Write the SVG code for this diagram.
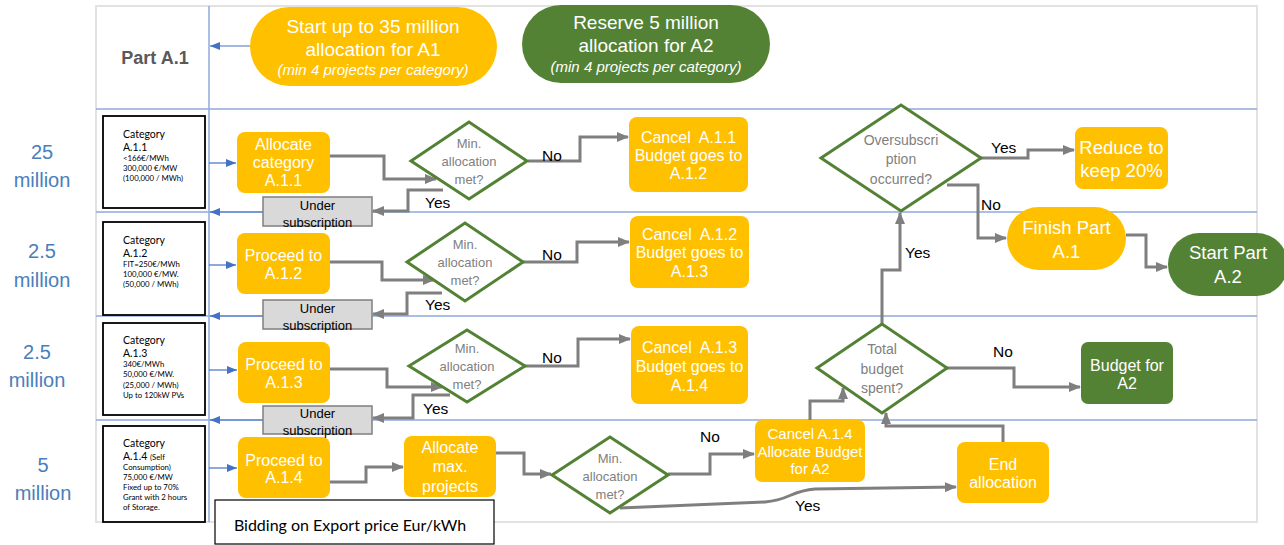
<svg xmlns="http://www.w3.org/2000/svg" width="1284" height="545" viewBox="0 0 1284 545">
<defs>
<marker id="ag" markerUnits="userSpaceOnUse" markerWidth="12" markerHeight="10" refX="11" refY="5" orient="auto"><path d="M0,0 L12,5 L0,10 z" fill="#7f7f7f"/></marker>
<marker id="ab" markerUnits="userSpaceOnUse" markerWidth="10" markerHeight="8" refX="10" refY="4" orient="auto"><path d="M0,0 L10,4 L0,8 z" fill="#4472c4"/></marker>
<style>
.lane{stroke:#8faadc;stroke-width:1.5;fill:none}
.blue{stroke:#4472c4;stroke-width:1.2;fill:none;marker-end:url(#ab)}
.con{stroke:#7f7f7f;stroke-width:3;fill:none;marker-end:url(#ag)}
.y{fill:#ffc000}
.g{fill:#548235}
.dia{fill:#fff;stroke:#548235;stroke-width:3}
.cat{fill:#fff;stroke:#000;stroke-width:1.8}
.us{fill:#d9d9d9;stroke:#7f7f7f;stroke-width:1.5}
.wt{font-family:"Liberation Sans",Arial,sans-serif;fill:#fff;text-anchor:middle;white-space:pre}
.dt{font-family:"Liberation Sans",Arial,sans-serif;fill:#808080;text-anchor:middle;font-size:13px}
.lb{font-family:"Liberation Sans",Arial,sans-serif;fill:#000;font-size:15.5px}
.ml{font-family:"Liberation Sans",Arial,sans-serif;fill:#4a7ebb;text-anchor:middle;font-size:20px}
.ct{font-family:Lato,"Open Sans",sans-serif;fill:#000;font-size:10.5px}
.cs{font-family:Lato,"Open Sans",sans-serif;fill:#000;font-size:7.8px}
.ut{font-family:"Liberation Sans",Arial,sans-serif;fill:#000;text-anchor:middle;font-size:13px}
</style>
</defs>
<rect width="1284" height="545" fill="#fff"/>
<g id="frame">
<rect x="96" y="6" width="1161" height="516" fill="none" stroke="#e2e2e2" stroke-width="2"/>
<line class="lane" x1="209" y1="6" x2="209" y2="522"/>
<line class="lane" x1="96" y1="109" x2="1257" y2="109"/>
<line class="lane" x1="96" y1="212" x2="1257" y2="212"/>
<line class="lane" x1="96" y1="316" x2="1257" y2="316"/>
<line class="lane" x1="96" y1="420" x2="1257" y2="420"/>
<text x="155" y="64" font-family="Liberation Sans,Arial,sans-serif" font-weight="bold" font-size="18" fill="#595959" text-anchor="middle">Part A.1</text>
</g>
<g id="lane-labels">
<text class="ml" x="42" y="159">25</text><text class="ml" x="42" y="187">million</text>
<text class="ml" x="42" y="258">2.5</text><text class="ml" x="42" y="287">million</text>
<text class="ml" x="37" y="359">2.5</text><text class="ml" x="37" y="387">million</text>
<text class="ml" x="43" y="472">5</text><text class="ml" x="43" y="500">million</text>
</g>
<g id="connectors">
<line class="blue" x1="250" y1="46" x2="210" y2="46"/>
<line class="blue" x1="209" y1="163" x2="236" y2="163"/>
<line class="blue" x1="209" y1="265" x2="236" y2="265"/>
<line class="blue" x1="209" y1="370" x2="237" y2="370"/>
<line class="blue" x1="209" y1="468" x2="237" y2="468"/>
<line class="blue" x1="263" y1="212" x2="210" y2="212"/>
<line class="blue" x1="263" y1="316" x2="210" y2="316"/>
<line class="blue" x1="263" y1="420" x2="210" y2="420"/>
<path class="con" d="M330,156 H384 V179 H436"/>
<path class="con" d="M443,190 H408 V211 H373"/>
<path class="con" d="M528,161 H580 V137 H628"/>
<path class="con" d="M330,262 H382 V280 H434"/>
<path class="con" d="M442,293 H407 V314 H373"/>
<path class="con" d="M523,262 H577 V242 H629"/>
<path class="con" d="M330,369 H387 V387 H442"/>
<path class="con" d="M450,395 H413 V418 H373"/>
<path class="con" d="M525,366 H578 V339 H630"/>
<path class="con" d="M330,482 H366 V467 H403"/>
<path class="con" d="M496,453 H524 V474 H551"/>
<path class="con" d="M668,474 H710 V454 H754"/>
<path class="con" d="M620,508 L765,502 C790,500 790,491 815,489 L956,487"/>
<path class="con" d="M810,420 V401 H843 V388"/>
<path class="con" d="M1003,442 V426 H886 V413"/>
<path class="con" d="M882,324 V270 H900 V213"/>
<path class="con" d="M947,368 H1014 V387 H1080"/>
<path class="con" d="M981,158 H1028 V150 H1074"/>
<path class="con" d="M947,185 H978 V238 H1006"/>
<path class="con" d="M1126,235 H1146 V267 H1167"/>
<text class="lb" x="425" y="208">Yes</text>
<text class="lb" x="542" y="161">No</text>
<text class="lb" x="425" y="310">Yes</text>
<text class="lb" x="542" y="260">No</text>
<text class="lb" x="423" y="414">Yes</text>
<text class="lb" x="542" y="363">No</text>
<text class="lb" x="700" y="442">No</text>
<text class="lb" x="795" y="511">Yes</text>
<text class="lb" x="905" y="258">Yes</text>
<text class="lb" x="993" y="357">No</text>
<text class="lb" x="991" y="153">Yes</text>
<text class="lb" x="981" y="210">No</text>
</g>
<g id="start-a1"><rect class="y" x="250" y="7" width="247" height="79" rx="39.5"/>
<text class="wt" x="373" y="33" font-size="19">Start up to 35 million</text>
<text class="wt" x="373" y="56" font-size="19">allocation for A1</text>
<text class="wt" x="373" y="75" font-size="15" font-style="italic">(min 4 projects per category)</text></g>
<g id="reserve-a2"><rect class="g" x="522" y="5" width="248" height="78" rx="39"/>
<text class="wt" x="646" y="29" font-size="19">Reserve 5 million</text>
<text class="wt" x="646" y="52" font-size="19">allocation for A2</text>
<text class="wt" x="646" y="72" font-size="15" font-style="italic">(min 4 projects per category)</text></g>
<g id="cat-a11"><rect class="cat" x="103" y="116" width="102" height="92"/>
<text class="ct" x="123" y="138">Category</text><text class="ct" x="123" y="151">A.1.1</text>
<text class="cs" x="123" y="161">&lt;166€/MWh</text><text class="cs" x="123" y="171">300,000 €/MW</text><text class="cs" x="123" y="181">(100,000 / MWh)</text></g>
<g id="cat-a12"><rect class="cat" x="103" y="222" width="102" height="93"/>
<text class="ct" x="123" y="244">Category</text><text class="ct" x="123" y="257">A.1.2</text>
<text class="cs" x="123" y="267">FIT=250€/MWh</text><text class="cs" x="123" y="277">100,000 €/MW.</text><text class="cs" x="123" y="287">(50,000 / MWh)</text></g>
<g id="cat-a13"><rect class="cat" x="103" y="323" width="102" height="92"/>
<text class="ct" x="123" y="344">Category</text><text class="ct" x="123" y="357">A.1.3</text>
<text class="cs" x="123" y="367">340€/MWh</text><text class="cs" x="123" y="377">50,000 €/MW.</text><text class="cs" x="123" y="388">(25,000 / MWh)</text><text class="cs" x="123" y="398">Up to 120kW PVs</text></g>
<g id="cat-a14"><rect class="cat" x="103" y="426" width="102" height="96"/>
<text class="ct" x="123" y="447">Category</text><text class="ct" x="123" y="460">A.1.4 <tspan font-size="7.8">(Self</tspan></text>
<text class="cs" x="123" y="470">Consumption)</text><text class="cs" x="123" y="480">75,000 €/MW</text><text class="cs" x="123" y="490">Fixed up to 70%</text><text class="cs" x="123" y="500">Grant with 2 hours</text><text class="cs" x="123" y="510">of Storage.</text></g>
<g id="alloc-a11"><rect class="y" x="237" y="132" width="93" height="61" rx="8"/>
<text class="wt" x="283.5" y="150" font-size="16">Allocate</text><text class="wt" x="283.5" y="168" font-size="16">category</text><text class="wt" x="283.5" y="186" font-size="16">A.1.1</text></g>
<g id="proceed-a12"><rect class="y" x="237" y="233" width="93" height="61" rx="8"/>
<text class="wt" x="283.5" y="261" font-size="16">Proceed to</text><text class="wt" x="283.5" y="279" font-size="16">A.1.2</text></g>
<g id="proceed-a13"><rect class="y" x="238" y="342" width="92" height="61" rx="8"/>
<text class="wt" x="284" y="370" font-size="16">Proceed to</text><text class="wt" x="284" y="388" font-size="16">A.1.3</text></g>
<g id="proceed-a14"><rect class="y" x="238" y="437" width="92" height="61" rx="8"/>
<text class="wt" x="284" y="466" font-size="16">Proceed to</text><text class="wt" x="284" y="483" font-size="16">A.1.4</text></g>
<g id="alloc-max"><rect class="y" x="404" y="436" width="92" height="61" rx="8"/>
<text class="wt" x="450" y="453" font-size="16">Allocate</text><text class="wt" x="450" y="472" font-size="16">max.</text><text class="wt" x="450" y="492" font-size="16">projects</text></g>
<g id="under1"><rect class="us" x="263" y="197" width="109" height="29"/>
<text class="ut" x="317.5" y="210">Under</text><text class="ut" x="317.5" y="227">subscription</text></g>
<g id="under2"><rect class="us" x="263" y="300" width="109" height="29"/>
<text class="ut" x="317.5" y="313">Under</text><text class="ut" x="317.5" y="330">subscription</text></g>
<g id="under3"><rect class="us" x="263" y="406" width="109" height="28"/>
<text class="ut" x="317.5" y="418">Under</text><text class="ut" x="317.5" y="435">subscription</text></g>
<g id="min1"><path class="dia" d="M411,161 L469,122 L527,161 L469,199 z"/>
<text class="dt" x="469" y="148">Min.</text><text class="dt" x="469" y="166">allocation</text><text class="dt" x="469" y="184">met?</text></g>
<g id="min2"><path class="dia" d="M407,262 L465,223 L523,262 L465,301 z"/>
<text class="dt" x="465" y="249">Min.</text><text class="dt" x="465" y="267">allocation</text><text class="dt" x="465" y="285">met?</text></g>
<g id="min3"><path class="dia" d="M409,366 L467,330 L525,366 L467,402 z"/>
<text class="dt" x="467" y="353">Min.</text><text class="dt" x="467" y="371">allocation</text><text class="dt" x="467" y="389">met?</text></g>
<g id="min4"><path class="dia" d="M552,475 L610,437 L668,475 L610,513 z"/>
<text class="dt" x="610" y="463">Min.</text><text class="dt" x="610" y="481">allocation</text><text class="dt" x="610" y="499">met?</text></g>
<g id="cancel-a11"><rect class="y" x="629" y="117" width="119" height="75" rx="8"/>
<text class="wt" x="688.5" y="143" font-size="16">Cancel  A.1.1</text><text class="wt" x="688.5" y="161" font-size="16">Budget goes to</text><text class="wt" x="688.5" y="179" font-size="16">A.1.2</text></g>
<g id="cancel-a12"><rect class="y" x="630" y="216" width="119" height="72" rx="8"/>
<text class="wt" x="689.5" y="240" font-size="16">Cancel  A.1.2</text><text class="wt" x="689.5" y="258" font-size="16">Budget goes to</text><text class="wt" x="689.5" y="277" font-size="16">A.1.3</text></g>
<g id="cancel-a13"><rect class="y" x="631" y="326" width="117" height="78" rx="8"/>
<text class="wt" x="689.5" y="353" font-size="16">Cancel  A.1.3</text><text class="wt" x="689.5" y="372" font-size="16">Budget goes to</text><text class="wt" x="689.5" y="391" font-size="16">A.1.4</text></g>
<g id="cancel-a14"><rect class="y" x="755" y="420" width="110" height="62" rx="7"/>
<text class="wt" x="810" y="439" font-size="15">Cancel A.1.4</text><text class="wt" x="810" y="457" font-size="15">Allocate Budget</text><text class="wt" x="810" y="474" font-size="15">for A2</text></g>
<g id="oversub"><path class="dia" d="M821,158 L901,105 L981,158 L901,211 z"/>
<text class="dt" x="901" y="145" style="font-size:14px">Oversubscri</text><text class="dt" x="901" y="164" style="font-size:14px">ption</text><text class="dt" x="901" y="184" style="font-size:14px">occurred?</text></g>
<g id="total-budget"><path class="dia" d="M817,368 L882,324 L947,368 L882,413 z"/>
<text class="dt" x="882" y="354" style="font-size:14px">Total</text><text class="dt" x="882" y="374" style="font-size:14px">budget</text><text class="dt" x="882" y="393" style="font-size:14px">spent?</text></g>
<g id="reduce"><rect class="y" x="1075" y="127" width="93" height="62" rx="8"/>
<text class="wt" x="1121.5" y="154" font-size="18.5">Reduce to</text><text class="wt" x="1121.5" y="177" font-size="18.5">keep 20%</text></g>
<g id="finish-a1"><rect class="y" x="1007" y="207" width="119" height="63" rx="31.5"/>
<text class="wt" x="1066.5" y="234" font-size="18.5">Finish Part</text><text class="wt" x="1066.5" y="258" font-size="18.5">A.1</text></g>
<g id="start-a2"><rect class="g" x="1168" y="233" width="120" height="63" rx="31.5"/>
<text class="wt" x="1228" y="259" font-size="18.5">Start Part</text><text class="wt" x="1228" y="283" font-size="18.5">A.2</text></g>
<g id="budget-a2"><rect class="g" x="1081" y="342" width="92" height="62" rx="7"/>
<text class="wt" x="1127" y="371" font-size="16">Budget for</text><text class="wt" x="1127" y="389" font-size="16">A2</text></g>
<g id="end-alloc"><rect class="y" x="957" y="442" width="92" height="61" rx="8"/>
<text class="wt" x="1003" y="470" font-size="16">End</text><text class="wt" x="1003" y="488" font-size="16">allocation</text></g>
<g id="bidding"><rect x="215" y="500" width="279" height="44" fill="#fff" stroke="#000" stroke-width="1.2"/>
<text x="350" y="531" font-family="Lato,'Open Sans',sans-serif" font-size="16" text-anchor="middle" fill="#000">Bidding on Export price Eur/kWh</text></g>
</svg>
